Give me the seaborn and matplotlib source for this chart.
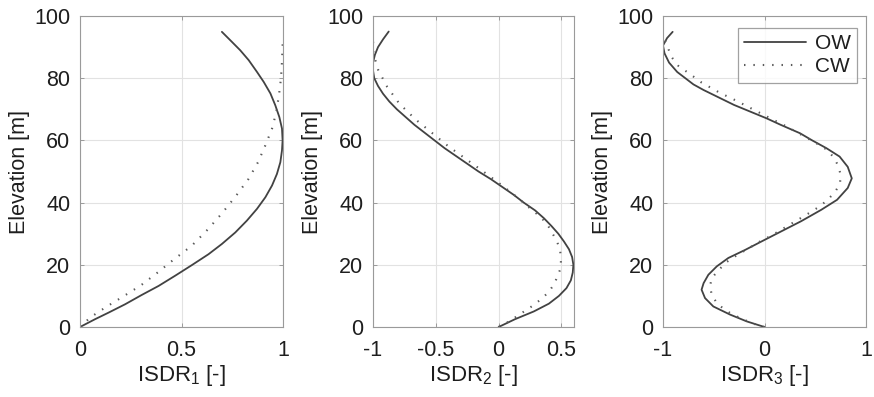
import numpy as np
import pandas as pd
import seaborn as sns
import matplotlib
matplotlib.use("Agg")
import matplotlib.pyplot as plt

# Inter-storey drift ratio profiles for the first three modes
# OW = open water, CW = closed water

# Mode 1
elev1_ow = [0, 2.5, 4.6, 7.3, 10.3, 13.2, 16.5, 19.9, 23.4, 26.7, 30.4, 34.2, 38, 41.7, 45.5, 49.2, 53,
            56.8, 60, 63.8, 67.5, 71.3, 75.1, 78.8, 82, 85.8, 89, 91.7, 94.9]
isdr1_ow = [0, 0.074, 0.14, 0.222, 0.304, 0.387, 0.469, 0.551, 0.633, 0.699, 0.765, 0.822, 0.872, 0.913, 0.946,
            0.970, 0.987, 0.995, 0.998, 0.995, 0.982, 0.962, 0.938, 0.905, 0.872, 0.831, 0.789, 0.748, 0.699]
elev1_cw = [0, 1.5, 3.0, 6.5, 9.7, 13.4, 17.4, 21.6, 26.1, 31.4, 36.6, 42.3, 47.6, 53, 58.4, 63.8, 69.1, 74.5,
            79.9, 85.3, 90.6, 93.3]
isdr1_cw = [0, 0.025, 0.049, 0.13, 0.21, 0.30, 0.38, 0.46, 0.55, 0.63, 0.70, 0.77, 0.83, 0.877, 0.913, 0.946,
            0.967, 0.98, 0.99, 0.995, 0.998, 0.998]

# Mode 2
elev2_ow = [0, 2.5, 5, 7.5, 10, 12.5, 15, 17.5, 20, 22.5, 25, 27.5, 30, 32.5, 35, 37.5, 40, 42.5, 45, 47.5,
            50, 52.5, 55, 57.5, 60, 62.5, 65, 67.5, 70, 72.5, 75, 77.5, 80, 82.5, 85, 87.5, 90, 92.5, 95]
isdr2_ow = [0, 0.13, 0.28, 0.40, 0.48, 0.54, 0.575, 0.59, 0.595, 0.585, 0.56, 0.52, 0.475, 0.42, 0.36, 0.29,
            0.20, 0.12, 0.03, -0.06, -0.16, -0.25, -0.34, -0.43, -0.51, -0.59, -0.67, -0.74, -0.81, -0.87,
            -0.92, -0.96, -0.99, -1.0, -1.0, -0.985, -0.96, -0.92, -0.875]
elev2_cw = [0, 1.5, 3.2, 6.8, 9, 11.3, 14, 16.5, 19, 21.8, 24.5, 27.5, 30, 33.1, 35.5, 38, 42.5, 46.6, 50.5,
            54.3, 58.1, 62.4, 66.7, 71.8, 77.2, 82.6, 88, 93.3]
isdr2_cw = [0, 0.07, 0.136, 0.27, 0.34, 0.40, 0.445, 0.47, 0.495, 0.496, 0.49, 0.465, 0.43, 0.386, 0.33,
            0.255, 0.123, -0.008, -0.139, -0.27, -0.40, -0.53, -0.66, -0.79, -0.887, -0.958, -0.997, -1.0]

# Mode 3
elev3_ow = [0, 1.8, 4, 6.6, 9.3, 12, 14.1, 16.8, 19.5, 22.2, 24.8, 28, 30.5, 34, 37.7, 40.9, 44.7, 47.8,
            51.5, 54.8, 57.5, 60, 62.3, 65, 67.1, 71.4, 76.2, 78, 80, 82, 85, 88, 90.5, 92.9, 94.9]
isdr3_ow = [0, -0.175, -0.34, -0.504, -0.586, -0.62, -0.60, -0.553, -0.47, -0.356, -0.19, 0.0, 0.15, 0.36,
            0.56, 0.715, 0.82, 0.86, 0.82, 0.74, 0.61, 0.47, 0.35, 0.16, 0.02, -0.30, -0.60, -0.70, -0.78,
            -0.86, -0.94, -0.985, -1.0, -0.96, -0.905]
elev3_cw = [0, 0.5, 1.5, 2.7, 3.9, 5.5, 7.7, 10.4, 13.1, 15.7, 18.2, 20.9, 22.7, 24.3, 25.9, 27.5, 28.9,
            30.4, 32, 33.6, 35.2, 36.8, 38.5, 40.6, 43.4, 46.1, 48.9, 51.5, 54.2, 56.9, 59.3, 61.7, 64.6,
            67.4, 70.1, 72.8, 75.3, 78.6, 81, 84, 87, 90.6, 92.5]
isdr3_cw = [0, -0.06, -0.143, -0.225, -0.307, -0.39, -0.47, -0.52, -0.537, -0.52, -0.455, -0.373, -0.29,
            -0.208, -0.126, -0.044, 0.038, 0.12, 0.202, 0.284, 0.366, 0.448, 0.53, 0.613, 0.695, 0.744, 0.75,
            0.73, 0.69, 0.62, 0.50, 0.37, 0.21, 0.04, -0.12, -0.28, -0.44, -0.62, -0.72, -0.85, -0.92, -0.96,
            -0.985]

x_labels = ["ISDR$_1$ [-]", "ISDR$_2$ [-]", "ISDR$_3$ [-]"]
x_limits = [(0, 1), (-1, 0.6), (-1, 1)]
x_ticks = [[0, 0.5, 1], [-1, -0.5, 0, 0.5], [-1, 0, 1]]
x_ticklabels = [["0", "0.5", "1"], ["-1", "-0.5", "0", "0.5"], ["-1", "0", "1"]]
y_ticks = [0, 20, 40, 60, 80, 100]

sns.set_theme(style="white")
plt.rcParams["font.family"] = ["Liberation Sans", "DejaVu Sans"]
plt.rcParams["mathtext.fontset"] = "custom"
plt.rcParams["mathtext.rm"] = "Liberation Sans"
plt.rcParams["mathtext.it"] = "Liberation Sans"

frames = []
for mode, (eo, io, ec, ic) in enumerate([
    (elev1_ow, isdr1_ow, elev1_cw, isdr1_cw),
    (elev2_ow, isdr2_ow, elev2_cw, isdr2_cw),
    (elev3_ow, isdr3_ow, elev3_cw, isdr3_cw),
], start=1):
    frames.append(pd.DataFrame({"mode": mode, "case": "OW", "elev": eo, "isdr": io}))
    frames.append(pd.DataFrame({"mode": mode, "case": "CW", "elev": ec, "isdr": ic}))
df = pd.concat(frames, ignore_index=True)

fig = plt.figure(figsize=(8.74, 3.97), dpi=100)
lefts = [80 / 874, 373 / 874, 663 / 874]
rights = [283 / 874, 574 / 874, 866 / 874]
bottom = (397 - 327) / 397
top = (397 - 16) / 397

text_color = "#1e1e1e"
for i in range(3):
    ax = fig.add_axes([lefts[i], bottom, rights[i] - lefts[i], top - bottom])
    sub = df[df["mode"] == i + 1]
    ow = sub[sub["case"] == "OW"]
    cw = sub[sub["case"] == "CW"]
    sns.lineplot(x=ow["isdr"], y=ow["elev"], sort=False, estimator=None, ax=ax,
                 color="#424242", linewidth=1.3, label="OW")
    sns.lineplot(x=cw["isdr"], y=cw["elev"], sort=False, estimator=None, ax=ax,
                 color="#5a5a5a", linewidth=1.5, linestyle=(0, (0.7, 3.8)), label="CW")
    ax.set_xlim(*x_limits[i])
    ax.set_ylim(0, 100)
    ax.set_xticks(x_ticks[i])
    ax.set_xticklabels(x_ticklabels[i])
    ax.set_yticks(y_ticks)
    ax.grid(True, color="#e2e2e2", linewidth=0.8)
    ax.set_axisbelow(True)
    for sp in ax.spines.values():
        sp.set_color("#9a9a9a")
        sp.set_linewidth(0.8)
    ax.tick_params(direction="in", length=3, width=0.7, color="#9a9a9a",
                   top=True, right=True, bottom=True, left=True,
                   labelsize=15.5, labelcolor=text_color)
    ax.tick_params(axis="x", pad=9)
    ax.tick_params(axis="y", pad=7)
    ax.set_xlabel(x_labels[i], fontsize=16, color=text_color, labelpad=2)
    ax.set_ylabel("Elevation [m]", fontsize=15.5, color=text_color, labelpad=3)
    if i < 2:
        ax.get_legend().remove()
    else:
        leg = ax.legend(loc="upper right", bbox_to_anchor=(1 - 9 / 203, 1 - 12 / 311),
                        fontsize=15, frameon=True, fancybox=False,
                        handlelength=3.0, borderpad=0.3, labelspacing=0.2,
                        handletextpad=0.4, borderaxespad=0.0)
        leg.get_frame().set_edgecolor("#8a8a8a")
        leg.get_frame().set_linewidth(0.9)
        for t in leg.get_texts():
            t.set_color(text_color)

fig.savefig("out.png", dpi=100)
